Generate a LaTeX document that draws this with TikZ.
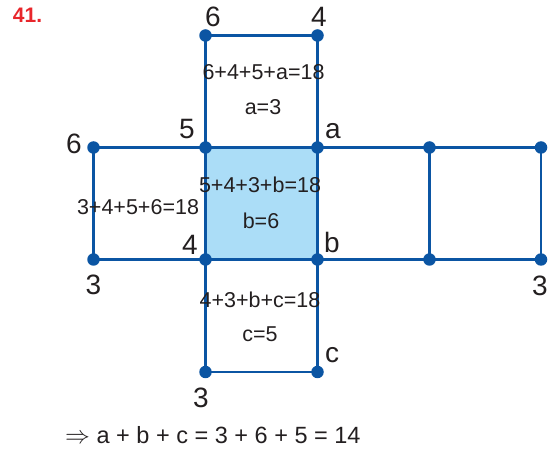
\documentclass[tikz,border=0pt]{standalone}
\usepackage{fontspec}
\setmainfont{Liberation Sans}
\definecolor{lineblue}{HTML}{0B55A3}
\definecolor{fillblue}{HTML}{ABDDF7}
\definecolor{txt}{HTML}{231F20}
\definecolor{numred}{HTML}{E8262B}
\begin{document}
\begin{tikzpicture}[x=1pt,y=-1pt,
  edge/.style={draw=lineblue,line width=2.2pt},
  dot/.style={circle,fill=lineblue,inner sep=0pt,minimum size=12.5pt},
  big/.style={text=txt,font=\fontsize{28}{28}\selectfont,inner sep=0pt},
  eq/.style={text=txt,font=\fontsize{21.5}{21.5}\selectfont,inner sep=0pt}]
\useasboundingbox (0,0) rectangle (555,449);
% grid points
\coordinate (T1) at (205.5,35.5); \coordinate (T2) at (317.5,35.5);
\coordinate (M0) at (93.5,147.5); \coordinate (M1) at (205.5,147.5);
\coordinate (M2) at (317.5,147.5); \coordinate (M3) at (429.5,147.5);
\coordinate (M4) at (541,147.5);
\coordinate (B0) at (93.5,259.5); \coordinate (B1) at (205.5,259.5);
\coordinate (B2) at (317.5,259.5); \coordinate (B3) at (429.5,259.5);
\coordinate (B4) at (541,259.5);
\coordinate (L1) at (205.5,372); \coordinate (L2) at (317.5,372);
% shaded face
\fill[fillblue] (M1) rectangle (B2);
% edges
\path[edge] (T1) -- (T2);
\path[edge] (T1) -- (M1);
\path[edge] (T2) -- (M2);
\path[edge] (M0) -- (M4);
\path[edge] (B0) -- (B4);
\path[edge] (M0) -- (B0);
\path[edge] (M1) -- (B1);
\path[edge] (M2) -- (B2);
\path[edge] (M3) -- (B3);
\path[edge] (M4) -- (B4);
\path[edge] (B1) -- (L1);
\path[edge] (B2) -- (L2);
\path[edge] (L1) -- (L2);
\path[edge,line width=3pt] (M1) rectangle (B2);
% dots
\foreach \p in {T1,T2,M0,M1,M2,M3,M4,B0,B1,B2,B3,B4,L1,L2}
  \node[dot] (d\p) at (\p) {};
% vertex labels
\node[big] (l6t) at (213,17) {6};
\node[big] (l4t) at (319,17) {4};
\node[big] (l5) at (187,129) {5};
\node[big] (la) at (333,131) {a};
\node[big] (l6l) at (74,144) {6};
\node[big] (l4m) at (190,245) {4};
\node[big] (lb) at (332,242.5) {b};
\node[big] (l3l) at (93.5,285) {3};
\node[big] (l3r) at (540,286) {3};
\node[big] (lc) at (332,355) {c};
\node[big] (l3b) at (201,398) {3};
% equations
\node[eq] (e1) at (263.5,72.5) {6+4+5+a=18};
\node[eq] (e1s) at (263,107) {a=3};
\node[eq] (e2) at (260,184.5) {5+4+3+b=18};
\node[eq] (e2s) at (261,220.5) {b=6};
\node[eq] (e3) at (138,207.5) {3+4+5+6=18};
\node[eq] (e4) at (260,299.5) {4+3+b+c=18};
\node[eq] (e4s) at (260,334.5) {c=5};
\node[eq,font=\fontsize{23.5}{23.5}\selectfont,anchor=west] (res) at (65,435) {$\Rightarrow$ a + b + c = 3 + 6 + 5 = 14};
\node[text=numred,font=\fontsize{21}{21}\selectfont\bfseries,inner sep=0pt] (num) at (27.5,15) {41.};
\end{tikzpicture}
\end{document}
